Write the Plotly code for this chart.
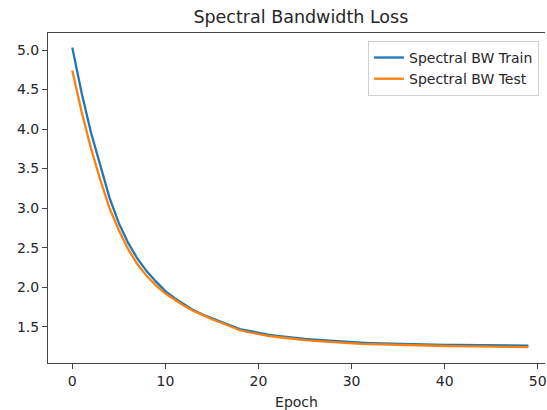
import plotly.graph_objects as go

epochs = list(range(50))
train_loss = [5.03, 4.46, 3.96, 3.53, 3.13, 2.81, 2.56, 2.36, 2.20, 2.07,
              1.95, 1.86, 1.78, 1.71, 1.655, 1.605, 1.56, 1.515, 1.47, 1.445,
              1.42, 1.40, 1.385, 1.37, 1.357, 1.345, 1.335, 1.326, 1.318, 1.31,
              1.303, 1.297, 1.292, 1.288, 1.284, 1.281, 1.278, 1.276, 1.274, 1.272,
              1.27, 1.269, 1.268, 1.267, 1.266, 1.265, 1.264, 1.263, 1.263, 1.262]
test_loss = [4.74, 4.22, 3.76, 3.36, 3.00, 2.72, 2.48, 2.29, 2.14, 2.02,
             1.92, 1.84, 1.765, 1.70, 1.645, 1.595, 1.55, 1.505, 1.455, 1.43,
             1.405, 1.385, 1.37, 1.355, 1.342, 1.33, 1.32, 1.311, 1.303, 1.296,
             1.29, 1.284, 1.279, 1.275, 1.271, 1.268, 1.265, 1.262, 1.26, 1.258,
             1.256, 1.254, 1.252, 1.25, 1.249, 1.247, 1.246, 1.245, 1.244, 1.242]
x_ticks = [0, 10, 20, 30, 40, 50]
y_ticks = [1.5, 2.0, 2.5, 3.0, 3.5, 4.0, 4.5, 5.0]

font = "DejaVu Sans"
fs = 14
fig = go.Figure()
fig.add_trace(go.Scatter(x=epochs, y=train_loss, mode="lines", name="Spectral BW Train",
                         line=dict(color="#1f77b4", width=2.3)))
fig.add_trace(go.Scatter(x=epochs, y=test_loss, mode="lines", name="Spectral BW Test",
                         line=dict(color="#ff7f0e", width=2.3)))

axis_common = dict(showgrid=False, zeroline=False, showline=True, linecolor="#444",
                   linewidth=1, ticks="outside", ticklen=5, tickwidth=1, tickcolor="#444",
                   ticklabeloverflow="allow",
                   tickfont=dict(family=font, size=fs, color="#262626"))
fig.update_layout(
    width=547, height=410,
    margin=dict(l=48, r=0, t=33, b=47),
    paper_bgcolor="white", plot_bgcolor="white",
    font=dict(family=font, size=fs, color="#262626"),
    title=dict(text="Spectral Bandwidth Loss", x=0.55, xref="container", xanchor="center",
               y=1 - 17 / 410, yref="container", yanchor="middle",
               font=dict(family=font, size=17.5, color="#262626")),
    xaxis=dict(range=[-2.61, 50.78], tickvals=x_ticks, mirror=True,
               title=dict(text="Epoch", standoff=9, font=dict(family=font, size=fs, color="#262626")),
               **axis_common),
    yaxis=dict(range=[1.041, 5.215], tickvals=y_ticks, tickformat=".1f", **axis_common),
    legend=dict(x=0.988, y=0.976, xanchor="right", yanchor="top", bgcolor="white",
                bordercolor="#d0d0d0", borderwidth=1,
                font=dict(family=font, size=fs, color="#262626")),
)
fig.write_html("out.html")
